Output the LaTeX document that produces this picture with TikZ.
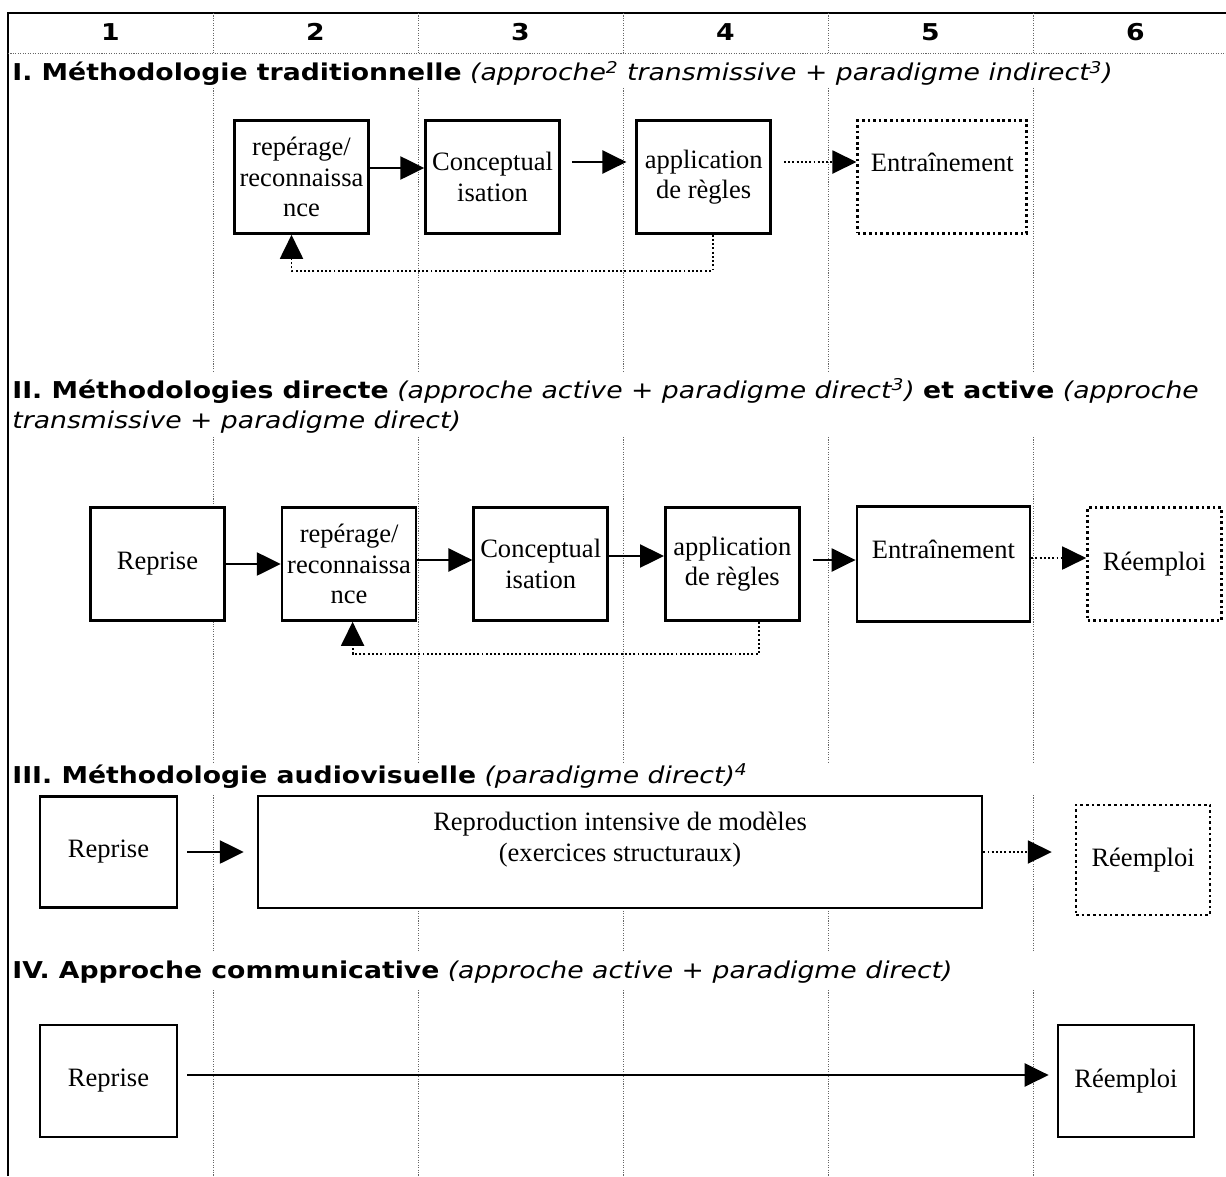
\documentclass[tikz,border=0pt]{standalone}
\usepackage{fontspec}
\setmainfont{Liberation Serif}
\newfontfamily\headfont[FakeStretch=1.15]{DejaVu Sans}
\usetikzlibrary{arrows.meta,positioning}
\tikzstyle{box} = [rectangle, draw=black, line width=1.5pt, fill=white, align=center, inner sep=0pt, minimum width=2.68cm, minimum height=2.26cm, font=\fontsize{15.1pt}{17.3pt}\selectfont]
\tikzstyle{dotbox} = [box, dash pattern=on 1.5pt off 1.7pt]
\tikzstyle{arrow} = [line width=1.4pt, -{Triangle[length=0.48cm,width=0.46cm]}]
\tikzstyle{dotarrow} = [arrow, line width=1.1pt, dash pattern=on 1.1pt off 1.3pt]
\tikzstyle{head} = [anchor=base west, inner sep=0pt, font=\headfont\fontsize{13.2pt}{16pt}\selectfont]
\tikzstyle{colsep} = [black!60, line width=0.5pt, dash pattern=on 0.6pt off 0.8pt]

\begin{document}
\begin{tikzpicture}[x=0.02cm, y=-0.02cm, node distance=1.1cm]
\useasboundingbox (0,0) rectangle (1226,1176);

	% table frame
	\draw [line width=1.2pt] (8,1176) -- (8,13) -- (1226,13);
	\draw [colsep] (8,53) -- (1226,53);
	\foreach \x in {213,418,623,828,1033}
		\foreach \ya/\yb in {13/53,88/372,437/762,795/952,990/1176}
			\draw [colsep] (\x,\ya) -- (\x,\yb);
	\foreach \n in {1,...,6}
		\node (col\n) [head, anchor=base] at (205*\n-94.5,41) {\textbf{\n}};

	% I
	\node (titleI) [head] at (12,81) {\textbf{I. Méthodologie traditionnelle} \textit{(approche\textsuperscript{2} transmissive + paradigme indirect\textsuperscript{3})}};
	\node (rep1) [box] at (301.5,177) {repérage/\\reconnaissa\\nce};
	\node (conc1) [box, right=1.09cm of rep1] {Conceptual\\isation};
	\node (appl1) [box, right=1.49cm of conc1] {application\\de règles};
	\node (entr1) [dotbox, right=1.69cm of appl1, minimum width=3.38cm] {Entraînement\\~};

	\draw [arrow] ([yshift=0.18cm]rep1.east) -- ([yshift=0.18cm]conc1.west);
	\draw [arrow, shorten <=0.22cm, shorten >=0.18cm] ([yshift=0.3cm]conc1.east) -- ([yshift=0.3cm]appl1.west);
	\draw [dotarrow, shorten <=0.24cm] ([yshift=0.3cm]appl1.east) -- ([yshift=0.3cm]entr1.west);
	\draw [dotarrow] ([xshift=0.18cm]appl1.south) -- ++(0,-0.72cm) -| ([xshift=-0.2cm]rep1.south);

	% II
	\node (titleIIa) [head] at (12,398) {\textbf{II. Méthodologies directe} \textit{(approche active + paradigme direct\textsuperscript{3})} \textbf{et active} \textit{(approche}};
	\node (titleIIb) [head] at (12,428) {\textit{transmissive + paradigme direct)}};
	\node (repr2) [box] at (157.5,564) {Reprise};
	\node (rep2) [box, right=of repr2] {repérage/\\reconnaissa\\nce};
	\node (conc2) [box, right=of rep2] {Conceptual\\isation};
	\node (appl2) [box, right=of conc2] {application\\de règles};
	\node (entr2) [box, right=of appl2, minimum width=3.46cm, minimum height=2.3cm] {Entraînement\\~};
	\node (reem2) [dotbox, right=of entr2] {Réemploi};

	\draw [arrow] (repr2) -- (rep2);
	\draw [arrow] ([yshift=0.08cm]rep2.east) -- ([yshift=0.08cm]conc2.west);
	\draw [arrow] ([yshift=0.16cm]conc2.east) -- ([yshift=0.16cm]appl2.west);
	\draw [arrow, shorten <=0.24cm] ([yshift=0.08cm]appl2.east) -- ([yshift=0.08cm]entr2.west);
	\draw [dotarrow] ([yshift=0.12cm]entr2.east) -- ([yshift=0.12cm]reem2.west);
	\draw [dotarrow] ([xshift=0.54cm]appl2.south) -- ++(0,-0.64cm) -| ([xshift=0.07cm]rep2.south);

	% III
	\node (titleIII) [head] at (12,783) {\textbf{III. Méthodologie audiovisuelle} \textit{(paradigme direct)\textsuperscript{4}}};
	\node (repr3) [box, minimum width=2.74cm, minimum height=2.22cm] at (108.5,852) {Reprise};
	\node (repro3) [box, right=1.57cm of repr3, minimum width=14.48cm, minimum height=2.24cm] {Reproduction intensive de modèles\\(exercices structuraux)\\~};
	\node (reem3) [dotbox, right=1.83cm of repro3, yshift=-0.16cm, minimum height=2.2cm] {Réemploi};

	\draw [arrow, shorten <=0.18cm, shorten >=0.26cm] (repr3) -- (repro3);
	\draw [dotarrow, shorten >=0.46cm] (repro3.east) -- (repro3.east -| reem3.west);

	% IV
	\node (titleIV) [head] at (12,978) {\textbf{IV. Approche communicative} \textit{(approche active + paradigme direct)}};
	\node (repr4) [box, minimum width=2.74cm, minimum height=2.24cm] at (108.5,1081) {Reprise};
	\node (reem4) [box, right=17.57cm of repr4, minimum width=2.72cm, minimum height=2.24cm] {Réemploi};

	\draw [arrow, shorten <=0.18cm, shorten >=0.16cm] ([yshift=0.12cm]repr4.east) -- ([yshift=0.12cm]reem4.west);

\end{tikzpicture}
\end{document}
